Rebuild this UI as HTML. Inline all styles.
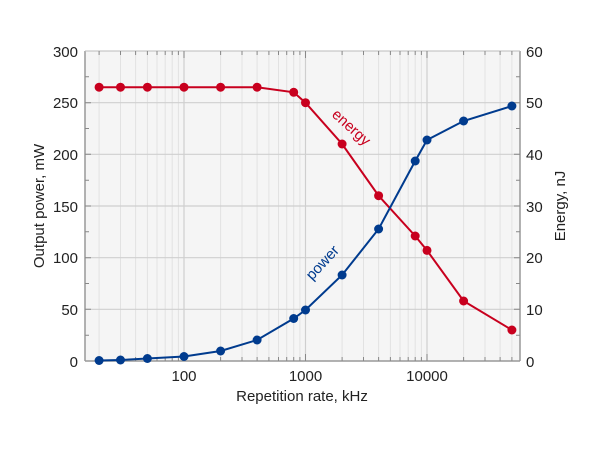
<!DOCTYPE html>
<html><head><meta charset="utf-8"><style>
html,body{margin:0;padding:0;background:#fff;}
svg{display:block;font-family:"Liberation Sans","DejaVu Sans",sans-serif;}
</style></head><body>
<svg width="600" height="450" viewBox="0 0 600 450" xmlns="http://www.w3.org/2000/svg">
<rect x="85" y="51" width="435" height="310" fill="#f5f5f5"/>
<g stroke="#e2e2e2" stroke-width="1">
<line x1="99.1" y1="51" x2="99.1" y2="361"/><line x1="120.5" y1="51" x2="120.5" y2="361"/><line x1="135.6" y1="51" x2="135.6" y2="361"/><line x1="147.4" y1="51" x2="147.4" y2="361"/><line x1="157" y1="51" x2="157" y2="361"/><line x1="165.2" y1="51" x2="165.2" y2="361"/><line x1="172.2" y1="51" x2="172.2" y2="361"/><line x1="178.4" y1="51" x2="178.4" y2="361"/>
<line x1="220.6" y1="51" x2="220.6" y2="361"/><line x1="242" y1="51" x2="242" y2="361"/><line x1="257.1" y1="51" x2="257.1" y2="361"/><line x1="268.9" y1="51" x2="268.9" y2="361"/><line x1="278.5" y1="51" x2="278.5" y2="361"/><line x1="286.7" y1="51" x2="286.7" y2="361"/><line x1="293.7" y1="51" x2="293.7" y2="361"/><line x1="299.9" y1="51" x2="299.9" y2="361"/>
<line x1="342.1" y1="51" x2="342.1" y2="361"/><line x1="363.5" y1="51" x2="363.5" y2="361"/><line x1="378.6" y1="51" x2="378.6" y2="361"/><line x1="390.4" y1="51" x2="390.4" y2="361"/><line x1="400" y1="51" x2="400" y2="361"/><line x1="408.2" y1="51" x2="408.2" y2="361"/><line x1="415.2" y1="51" x2="415.2" y2="361"/><line x1="421.4" y1="51" x2="421.4" y2="361"/>
<line x1="463.6" y1="51" x2="463.6" y2="361"/><line x1="485" y1="51" x2="485" y2="361"/><line x1="500.1" y1="51" x2="500.1" y2="361"/><line x1="511.9" y1="51" x2="511.9" y2="361"/>
</g>
<g stroke="#cfcfcf" stroke-width="1.2">
<line x1="184" y1="51" x2="184" y2="361"/><line x1="305.5" y1="51" x2="305.5" y2="361"/><line x1="427" y1="51" x2="427" y2="361"/>
<line x1="85" y1="102.7" x2="520" y2="102.7"/><line x1="85" y1="154.3" x2="520" y2="154.3"/><line x1="85" y1="206" x2="520" y2="206"/><line x1="85" y1="257.7" x2="520" y2="257.7"/><line x1="85" y1="309.3" x2="520" y2="309.3"/>
</g>
<!-- frame -->
<g stroke="#999" stroke-width="1.5" fill="none">
<line x1="85" y1="51" x2="85" y2="361"/><line x1="520" y1="51" x2="520" y2="361"/>
<line x1="85" y1="361" x2="520" y2="361"/>
</g>
<line x1="85" y1="51" x2="520" y2="51" stroke="#bbb" stroke-width="1"/>
<!-- ticks x -->
<g stroke="#888" stroke-width="1">
<path d="M99.1 361v-4M120.5 361v-4M135.6 361v-4M147.4 361v-4M157 361v-4M165.2 361v-4M172.2 361v-4M178.4 361v-4M220.6 361v-4M242 361v-4M257.1 361v-4M268.9 361v-4M278.5 361v-4M286.7 361v-4M293.7 361v-4M299.9 361v-4M342.1 361v-4M363.5 361v-4M378.6 361v-4M390.4 361v-4M400 361v-4M408.2 361v-4M415.2 361v-4M421.4 361v-4M463.6 361v-4M485 361v-4M500.1 361v-4M511.9 361v-4M184 361v-7M305.5 361v-7M427 361v-7"/>
<path d="M99.1 51v4M120.5 51v4M135.6 51v4M147.4 51v4M157 51v4M165.2 51v4M172.2 51v4M178.4 51v4M220.6 51v4M242 51v4M257.1 51v4M268.9 51v4M278.5 51v4M286.7 51v4M293.7 51v4M299.9 51v4M342.1 51v4M363.5 51v4M378.6 51v4M390.4 51v4M400 51v4M408.2 51v4M415.2 51v4M421.4 51v4M463.6 51v4M485 51v4M500.1 51v4M511.9 51v4M184 51v7M305.5 51v7M427 51v7"/>
<path d="M85 76.8h4M85 128.5h4M85 180.2h4M85 231.8h4M85 283.5h4M85 335.2h4M85 102.7h6M85 154.3h6M85 206h6M85 257.7h6M85 309.3h6"/>
<path d="M520 76.8h-4M520 128.5h-4M520 180.2h-4M520 231.8h-4M520 283.5h-4M520 335.2h-4M520 102.7h-6M520 154.3h-6M520 206h-6M520 257.7h-6M520 309.3h-6"/>
</g>
<!-- tick labels -->
<g font-size="15" fill="#222" text-anchor="end">
<text x="78" y="57">300</text><text x="78" y="108">250</text><text x="78" y="160">200</text><text x="78" y="212">150</text><text x="78" y="263">100</text><text x="78" y="315">50</text><text x="78" y="367">0</text>
</g>
<g font-size="15" fill="#222" text-anchor="start">
<text x="526" y="57">60</text><text x="526" y="108">50</text><text x="526" y="160">40</text><text x="526" y="212">30</text><text x="526" y="263">20</text><text x="526" y="315">10</text><text x="526" y="367">0</text>
</g>
<g font-size="15" fill="#222" text-anchor="middle">
<text x="184" y="381">100</text><text x="305.5" y="381">1000</text><text x="427" y="381">10000</text>
<text x="302" y="401">Repetition rate, kHz</text>
<text transform="translate(44 206) rotate(-90)">Output power, mW</text>
<text transform="translate(565 206) rotate(-90)">Energy, nJ</text>
</g>
<!-- energy -->
<g fill="#c8001e" stroke="#c8001e">
<polyline fill="none" stroke-width="2" points="99.1,87.2 120.5,87.2 147.4,87.2 184,87.2 220.6,87.2 257.1,87.2 293.7,92.3 305.5,102.7 342.1,144 378.6,195.7 415.2,236 427,250.4 463.6,301 511.9,330"/>
<g stroke="none">
<circle cx="99.1" cy="87.2" r="4.5"/><circle cx="120.5" cy="87.2" r="4.5"/><circle cx="147.4" cy="87.2" r="4.5"/><circle cx="184" cy="87.2" r="4.5"/><circle cx="220.6" cy="87.2" r="4.5"/><circle cx="257.1" cy="87.2" r="4.5"/><circle cx="293.7" cy="92.3" r="4.5"/><circle cx="305.5" cy="102.7" r="4.5"/><circle cx="342.1" cy="144" r="4.5"/><circle cx="378.6" cy="195.7" r="4.5"/><circle cx="415.2" cy="236" r="4.5"/><circle cx="427" cy="250.4" r="4.5"/><circle cx="463.6" cy="301" r="4.5"/><circle cx="511.9" cy="330" r="4.5"/>
</g>
<text stroke="none" font-size="15" text-anchor="middle" transform="translate(348 131) rotate(42)">energy</text>
</g>
<!-- power -->
<g fill="#003b8e" stroke="#003b8e">
<polyline fill="none" stroke-width="2" points="99.1,360.5 120.5,360 147.4,358.5 184,356.5 220.6,351 257.1,340 293.7,318.5 305.5,310 342.1,275 378.6,229 415.2,161 427,140 463.6,121 511.9,106"/>
<g stroke="none">
<circle cx="99.1" cy="360.5" r="4.5"/><circle cx="120.5" cy="360" r="4.5"/><circle cx="147.4" cy="358.5" r="4.5"/><circle cx="184" cy="356.5" r="4.5"/><circle cx="220.6" cy="351" r="4.5"/><circle cx="257.1" cy="340" r="4.5"/><circle cx="293.7" cy="318.5" r="4.5"/><circle cx="305.5" cy="310" r="4.5"/><circle cx="342.1" cy="275" r="4.5"/><circle cx="378.6" cy="229" r="4.5"/><circle cx="415.2" cy="161" r="4.5"/><circle cx="427" cy="140" r="4.5"/><circle cx="463.6" cy="121" r="4.5"/><circle cx="511.9" cy="106" r="4.5"/>
</g>
<text stroke="none" font-size="15" text-anchor="middle" transform="translate(326 266) rotate(-47)">power</text>
</g>
</svg>
</body></html>
